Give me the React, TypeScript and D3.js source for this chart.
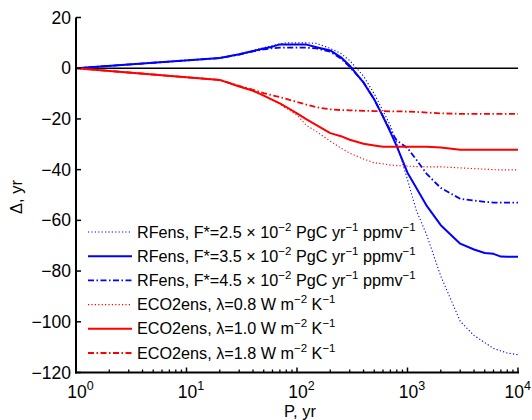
import React from "react";
import * as d3 from "d3";

const pValues = [1, 20, 30, 40, 50, 60, 70, 80, 100, 120, 150, 200, 250, 300, 400, 500, 600, 700, 800, 1000, 1200, 1500, 2000, 3000, 4000, 5000, 6000, 7000, 8000, 10000];

const rf25 = [0, 4.0, 5.6, 7.0, 8.1, 8.9, 9.6, 10, 10, 10, 9.8, 7.8, 5.8, 3.0, -3.1, -10.1, -16.8, -22.6, -29.5, -44, -56, -66, -82, -99.8, -105.4, -108.2, -110.5, -111.5, -112.3, -113];
const rf35 = [0, 4.0, 5.5, 6.8, 7.8, 8.5, 9.4, 9.4, 9.4, 9.4, 8.3, 7.0, 4.3, 1.0, -5.7, -12.3, -19.1, -25.2, -30.8, -41.2, -47.1, -54.4, -61.9, -69.2, -71.5, -72.9, -73.2, -74.3, -74.4, -74.4];
const rf45 = [0, 4.0, 5.4, 6.6, 7.4, 7.9, 8.1, 8.1, 8.1, 8.1, 7.8, 6.5, 3.8, 0.5, -5.5, -12.3, -19, -24.5, -28.5, -31.5, -36, -41.8, -47.2, -51.5, -52.2, -52.7, -53, -53, -53, -53];
const eco08 = [0, -4.6, -7.2, -8.9, -10.8, -12.6, -14.1, -15.8, -18.5, -22.3, -25, -28.8, -31.5, -33.5, -35.8, -37.3, -37.7, -38.2, -38.4, -38.6, -38.8, -38.9, -38.9, -39.3, -39.6, -39.8, -40, -40.1, -40.1, -40.1];
const eco10 = [0, -4.6, -7.2, -8.9, -10.8, -12.5, -13.9, -15.3, -17.8, -20.0, -22.4, -25.6, -26.8, -28.2, -29.8, -30.5, -31, -31, -31, -31, -31, -31, -31.3, -32.2, -32.2, -32.2, -32.2, -32.2, -32.2, -32.2];
const eco18 = [0, -4.6, -7.0, -8.5, -9.8, -10.7, -11.4, -12.1, -13.3, -14.3, -15.4, -16.2, -16.5, -16.6, -16.8, -16.9, -16.9, -17, -17, -17.1, -17.2, -17.5, -17.8, -18, -18, -18, -18, -18, -18, -18];

const yTicks = [20, 0, -20, -40, -60, -80, -100, -120];
const xDecades = [0, 1, 2, 3, 4];

const rfLabels = ["2.5", "3.5", "4.5"];
const ecoLabels = ["0.8", "1.0", "1.8"];

const W = 532;
const H = 420;
const FONT = "'Liberation Sans', Arial, Helvetica, sans-serif";

const DOT = "1.2,2.2";
const DASHDOT = "6,2.5,1.5,2.5";

export default function App() {
  const x = d3.scaleLog().domain([1, 10000]).range([76, 518]);
  const y = d3.scaleLinear().domain([-120, 20]).range([372.5, 17.5]);

  const line = d3
    .line<number>()
    .x((_, i) => x(pValues[i]))
    .y((d) => y(d));

  const series = [
    { data: rf25, color: "#0000ff", dash: DOT, width: 1.1, kind: "rf", label: rfLabels[0] },
    { data: rf35, color: "#0000ff", dash: null, width: 2, kind: "rf", label: rfLabels[1] },
    { data: rf45, color: "#0000ff", dash: DASHDOT, width: 1.8, kind: "rf", label: rfLabels[2] },
    { data: eco08, color: "#ff0000", dash: DOT, width: 1.1, kind: "eco", label: ecoLabels[0] },
    { data: eco10, color: "#ff0000", dash: null, width: 2, kind: "eco", label: ecoLabels[1] },
    { data: eco18, color: "#ff0000", dash: DASHDOT, width: 1.8, kind: "eco", label: ecoLabels[2] },
  ];

  const minorTicks: number[] = [];
  for (let e = 0; e < 4; e++) {
    for (let m = 2; m <= 9; m++) minorTicks.push(m * Math.pow(10, e));
  }

  const x0 = x(1);
  const x1 = x(10000);
  const yb = y(-120);

  return (
    <svg
      width={W}
      height={H}
      style={{ position: "absolute", left: 0, top: 0, background: "#fff" }}
      fontFamily={FONT}
    >
      <rect x={0} y={0} width={W} height={H} fill="#fff" />
      {/* zero line */}
      <line x1={x0} x2={x1} y1={y(0)} y2={y(0)} stroke="#000" strokeWidth={1.6} />
      {/* data lines */}
      {series.map((s, i) => (
        <path
          key={i}
          d={line(s.data) || ""}
          fill="none"
          stroke={s.color}
          strokeWidth={s.width}
          strokeDasharray={s.dash || undefined}
          strokeLinejoin="round"
        />
      ))}
      {/* axes */}
      <line x1={x0} x2={x0} y1={y(20)} y2={yb + 1} stroke="#000" strokeWidth={2} />
      <line x1={x0 - 1} x2={x1 + 1} y1={yb} y2={yb} stroke="#000" strokeWidth={2} />
      {yTicks.map((t) => (
        <g key={t}>
          <line x1={x0} x2={x0 + 5} y1={y(t)} y2={y(t)} stroke="#000" strokeWidth={1.5} />
          <text x={71} y={y(t) + 6} textAnchor="end" fontSize={17.5} fill="#000">
            {t < 0 ? "\u2212" + Math.abs(t) : String(t)}
          </text>
        </g>
      ))}
      {xDecades.map((e) => {
        const last = e === xDecades[xDecades.length - 1];
        return (
          <g key={e}>
            <line x1={x(Math.pow(10, e))} x2={x(Math.pow(10, e))} y1={yb} y2={yb - 5} stroke="#000" strokeWidth={1.5} />
            <text
              x={last ? 531 : x(Math.pow(10, e)) + 4.5}
              y={398}
              textAnchor={last ? "end" : "middle"}
              fontSize={17.5}
              fill="#000"
            >
              10
              <tspan fontSize={12.5} dy={-8}>
                {e}
              </tspan>
            </text>
          </g>
        );
      })}
      {minorTicks.map((t) => (
        <line key={t} x1={x(t)} x2={x(t)} y1={yb} y2={yb - 3} stroke="#000" strokeWidth={1.3} />
      ))}
      <text x={(x0 + x1) / 2 + 3} y={417} textAnchor="middle" fontSize={16.5} fill="#000">
        P, yr
      </text>
      <text
        transform={`translate(22, ${(y(20) + yb) / 2 + 2}) rotate(-90)`}
        textAnchor="middle"
        fontSize={16.5}
        fill="#000"
      >
        Δ, yr
      </text>
      {/* legend */}
      {series.map((s, i) => {
        const ly = 232 + i * 24.2;
        return (
          <g key={"lg" + i}>
            <line
              x1={88}
              x2={132}
              y1={ly}
              y2={ly}
              stroke={s.color}
              strokeWidth={s.width}
              strokeDasharray={s.dash || undefined}
            />
            {s.kind === "rf" ? (
              <text x={137} y={ly + 5.5} fontSize={16.2} fill="#000">
                {`RFens, F*=${s.label} \u00d7 10`}
                <tspan fontSize={11.5} dy={-7}>{"\u22122"}</tspan>
                <tspan dy={7}>{" PgC yr"}</tspan>
                <tspan fontSize={11.5} dy={-7}>{"\u22121"}</tspan>
                <tspan dy={7}>{" ppmv"}</tspan>
                <tspan fontSize={11.5} dy={-7}>{"\u22121"}</tspan>
              </text>
            ) : (
              <text x={137} y={ly + 5.5} fontSize={16.2} fill="#000">
                {`ECO2ens, \u03bb=${s.label} W m`}
                <tspan fontSize={11.5} dy={-7}>{"\u22122"}</tspan>
                <tspan dy={7}>{" K"}</tspan>
                <tspan fontSize={11.5} dy={-7}>{"\u22121"}</tspan>
              </text>
            )}
          </g>
        );
      })}
    </svg>
  );
}
